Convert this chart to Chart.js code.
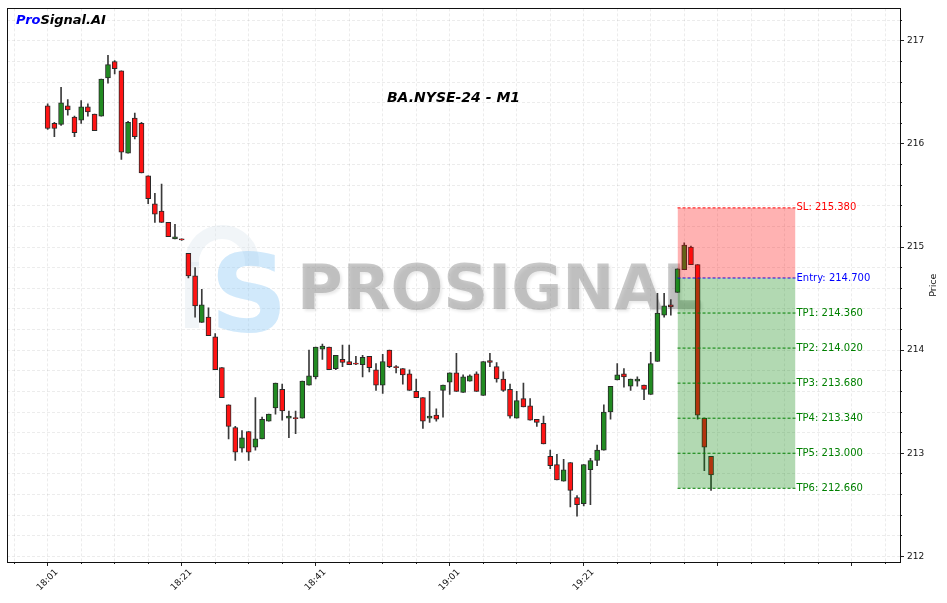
<!DOCTYPE html>
<html><head><meta charset="utf-8">
<script src="https://cdn.jsdelivr.net/npm/chart.js@4/dist/chart.umd.min.js"></script>
<style>html,body{margin:0;padding:0;background:#fff}</style>
</head><body>
<canvas id="c" width="947" height="603"></canvas>
<script>
// ---- data (minute index 0 = 18:01) ----
const openP = [216.37,216.20,216.19,216.37,216.26,216.23,216.36,216.29,216.27,216.64,
216.80,216.71,215.91,216.25,216.20,215.69,215.42,215.35,215.24,215.08,
215.075,214.94,214.72,214.27,214.32,214.13,213.83,213.47,213.25,213.05,
213.21,213.06,213.14,213.31,213.44,213.62,213.34,213.34,213.34,213.66,
213.74,214.01,214.03,213.82,213.91,213.89,213.87,213.86,213.94,213.81,
213.66,214.00,213.84,213.82,213.77,213.60,213.54,213.34,213.37,213.61,
213.69,213.78,213.59,213.70,213.77,213.56,213.90,213.84,213.72,213.62,
213.34,213.53,213.46,213.33,213.29,212.97,212.89,212.73,212.91,212.57,
212.51,212.84,212.93,213.03,213.40,213.71,213.77,213.65,213.70,213.66,
213.57,213.89,214.34,214.44,214.56,214.78,215.00,214.83,213.34,212.97];
const highP = [216.39,216.21,216.55,216.43,216.27,216.42,216.39,216.29,216.63,216.86,
216.81,216.71,216.22,216.30,216.21,215.69,215.52,215.61,215.24,215.22,
215.08,214.94,214.80,214.59,214.41,214.16,213.83,213.47,213.26,213.22,
213.21,213.54,213.35,213.38,213.68,213.67,213.41,213.41,213.70,214.00,
214.03,214.06,214.03,213.95,214.05,214.05,213.94,213.95,213.94,213.87,
213.96,214.00,213.85,213.82,213.81,213.72,213.54,213.60,213.43,213.66,
213.78,213.97,213.76,213.76,213.79,213.89,213.97,213.88,213.79,213.67,
213.60,213.68,213.53,213.33,213.36,213.03,212.99,212.94,212.91,212.59,
212.89,212.95,213.08,213.47,213.65,213.87,213.82,213.72,213.74,213.66,
213.98,214.55,214.55,214.49,214.79,215.04,215.01,214.83,213.34,212.97];
const lowP = [216.14,216.07,216.18,216.28,216.07,216.20,216.27,216.13,216.27,216.59,
216.68,215.85,215.91,216.05,215.72,215.42,215.24,215.24,215.10,215.08,
215.065,214.70,214.32,214.27,214.14,213.81,213.54,213.14,212.93,213.01,
212.93,213.03,213.14,213.31,213.38,213.32,213.15,213.19,213.34,213.66,
213.72,213.91,213.81,213.81,213.84,213.86,213.86,213.74,213.79,213.61,
213.58,213.83,213.78,213.67,213.61,213.54,213.24,213.30,213.31,213.35,
213.57,213.60,213.59,213.70,213.60,213.56,213.84,213.69,213.60,213.34,
213.34,213.45,213.32,213.26,213.09,212.85,212.74,212.73,212.48,212.39,
212.49,212.50,212.88,213.03,213.33,213.71,213.64,213.61,213.65,213.52,
213.57,213.89,214.32,214.34,214.56,214.78,214.83,213.33,212.83,212.64];
const closeP = [216.15,216.15,216.40,216.33,216.11,216.36,216.31,216.13,216.63,216.77,
216.73,215.92,216.21,216.07,215.72,215.47,215.32,215.24,215.10,215.10,
215.07,214.72,214.43,214.44,214.14,213.81,213.54,213.26,213.01,213.15,
213.01,213.14,213.33,213.38,213.68,213.41,213.36,213.335,213.70,213.75,
214.03,214.04,213.81,213.95,213.88,213.86,213.865,213.93,213.83,213.66,
213.89,213.84,213.83,213.76,213.61,213.54,213.31,213.36,213.33,213.66,
213.78,213.60,213.74,213.75,213.60,213.89,213.88,213.72,213.61,213.36,
213.51,213.45,213.32,213.30,213.09,212.88,212.74,212.84,212.64,212.50,
212.89,212.93,213.03,213.40,213.65,213.76,213.74,213.72,213.72,213.62,
213.87,214.36,214.43,214.42,214.79,215.02,214.83,213.37,213.06,212.79];

const xTickValues = [0,20,40,60,80,100,120];
const xTickLabels = ['18:01','18:21','18:41','19:01','19:21','',''];
const yTickValues = [212,213,214,215,216,217];

const zoneStart = 94, zoneEnd = 111.6;
const levelNames = ['SL','Entry','TP1','TP2','TP3','TP4','TP5','TP6'];
const levelValues = [215.38,214.70,214.36,214.02,213.68,213.34,213.00,212.66];

const chartTitle = 'BA.NYSE-24 - M1';
const xRange = [-6.07, 127.2];
const yRange = [211.945, 217.315];

// ---- build datasets ----
const idx = openP.map((_, i) => i);
const GREEN = '#228b22', RED = '#ff1414';
const isUp = i => closeP[i] >= openP[i];

const wickDs = {
  type: 'bar', label: 'wick', order: 20, grouped: false, xAxisID: 'x', yAxisID: 'y',
  data: idx.map(i => ({x: i, y: [lowP[i], highP[i]]})),
  backgroundColor: '#3a3a3a', borderWidth: 0, barThickness: 1, minBarLength: 1
};
const bodyDs = {
  type: 'bar', label: 'body', order: 10, grouped: false, xAxisID: 'x', yAxisID: 'y',
  data: idx.map(i => ({x: i, y: [openP[i], closeP[i]]})),
  backgroundColor: idx.map(i => isUp(i) ? GREEN : RED),
  borderColor: '#2a2a2a', borderWidth: 1, borderSkipped: false,
  barThickness: 5, minBarLength: 1
};
const levelColor = n => n === 'SL' ? '#ff0000' : (n === 'Entry' ? '#0000ff' : '#008000');
const lineDs = levelNames.map((n, k) => ({
  type: 'line', label: n, order: 1, xAxisID: 'x', yAxisID: 'y',
  data: [{x: zoneStart, y: levelValues[k]}, {x: zoneEnd, y: levelValues[k]}],
  borderColor: levelColor(n), borderWidth: 1, borderDash: [3, 2],
  pointRadius: 0,
  fill: n === 'SL' ? 3 : (n === 'Entry' ? 9 : false),
  backgroundColor: n === 'SL' ? 'rgba(255,0,0,0.3)' : 'rgba(0,128,0,0.3)'
}));

// ---- plugins ----
const decor = {
  id: 'decor',
  beforeDatasetsDraw(chart) {
    const ctx = chart.ctx; const a = chart.chartArea;
    ctx.save();
    ctx.beginPath(); ctx.rect(a.left, a.top, a.right - a.left, a.bottom - a.top); ctx.clip();
    // logo back arc
    ctx.strokeStyle = 'rgba(215,225,235,0.35)'; ctx.lineWidth = 14;
    ctx.beginPath(); ctx.arc(222, 262, 30, Math.PI * 0.95, Math.PI * 0.05); ctx.stroke();
    ctx.beginPath(); ctx.moveTo(192, 262); ctx.lineTo(192, 328); ctx.stroke();
    // blue S
    ctx.fillStyle = 'rgba(140,200,245,0.4)';
    ctx.font = 'bold 108px "DejaVu Sans"';
    ctx.textAlign = 'center'; ctx.textBaseline = 'alphabetic';
    ctx.fillText('S', 249, 331);
    // watermark text
    ctx.shadowColor = 'rgba(0,0,0,0.18)'; ctx.shadowOffsetX = 2; ctx.shadowOffsetY = 2; ctx.shadowBlur = 3;
    ctx.fillStyle = 'rgba(150,150,150,0.5)';
    ctx.font = 'bold 63px "DejaVu Sans"';
    ctx.textAlign = 'left';
    ctx.fillText('PROSIGNAL', 297, 309, 405);
    ctx.restore();
  },
  afterDraw(chart) {
    const ctx = chart.ctx; const a = chart.chartArea;
    const xs = chart.scales.x, ys = chart.scales.y;
    ctx.save();
    // frame
    ctx.strokeStyle = '#111'; ctx.lineWidth = 1;
    ctx.strokeRect(Math.round(a.left) + 0.5, Math.round(a.top) + 0.5, Math.round(a.right - a.left), Math.round(a.bottom - a.top));
    // level labels
    ctx.font = '10px "DejaVu Sans"'; ctx.textAlign = 'left'; ctx.textBaseline = 'middle';
    levelNames.forEach((n, k) => {
      ctx.fillStyle = levelColor(n);
      ctx.fillText(n + ': ' + levelValues[k].toFixed(3), xs.getPixelForValue(zoneEnd) + 1, ys.getPixelForValue(levelValues[k]));
    });
    // title
    ctx.fillStyle = '#000'; ctx.font = 'italic bold 14px "DejaVu Sans"'; ctx.textAlign = 'center';
    ctx.fillText(chartTitle, (a.left + a.right) / 2, a.top + 90);
    // brand
    ctx.textAlign = 'left'; ctx.font = 'italic bold 13px "DejaVu Sans"';
    ctx.fillStyle = '#0000ff'; ctx.fillText('Pro', a.left + 9, a.top + 12);
    const w = ctx.measureText('Pro').width;
    ctx.fillStyle = '#000'; ctx.fillText('Signal.AI', a.left + 9 + w, a.top + 12);
    // y title
    ctx.translate(934, (a.top + a.bottom) / 2); ctx.rotate(-Math.PI / 2);
    ctx.textAlign = 'center'; ctx.font = '9.5px "DejaVu Sans"'; ctx.fillStyle = '#111';
    ctx.fillText('Price', 0, 0);
    ctx.restore();
  }
};

const gridDash = [3, 2];
const gridColor = 'rgba(0,0,0,0.075)';

new Chart(document.getElementById('c'), {
  type: 'bar',
  data: { datasets: [wickDs, bodyDs, ...lineDs] },
  options: {
    responsive: false, animation: false, devicePixelRatio: 1,
    layout: { padding: { left: 7, top: 7, right: 0, bottom: 0 } },
    plugins: { legend: { display: false }, tooltip: { enabled: false } },
    scales: {
      x: {
        type: 'linear', position: 'bottom', weight: 1, min: xRange[0], max: xRange[1], offset: false,
        afterBuildTicks: s => { s.ticks = xTickValues.map(v => ({value: v})); },
        afterFit: s => { s.height = 41; },
        ticks: {
          autoSkip: false, minRotation: 45, maxRotation: 45, labelOffset: 9, padding: 1,
          font: { family: 'DejaVu Sans', size: 9 }, color: '#111',
          callback: (v) => { const k = xTickValues.indexOf(v); return k >= 0 ? xTickLabels[k] : ''; }
        },
        grid: { drawOnChartArea: false, offset: false, tickColor: '#222', tickLength: 4 },
        border: { display: false }
      },
      y: {
        type: 'linear', position: 'right', weight: 1, min: yRange[0], max: yRange[1], offset: false,
        afterBuildTicks: s => { s.ticks = yTickValues.map(v => ({value: v})); },
        afterFit: s => { s.width = 47; },
        ticks: { font: { family: 'DejaVu Sans', size: 9 }, color: '#111', padding: 3,
          callback: v => String(v) },
        grid: { drawOnChartArea: false, offset: false, tickColor: '#222', tickLength: 4 },
        border: { display: false }
      },
      xMinor: {
        type: 'linear', position: 'bottom', weight: 0, min: xRange[0], max: xRange[1], offset: false,
        afterBuildTicks: s => { const t = []; for (let v = -5; v <= 125; v += 5) t.push({value: v}); s.ticks = t; },
        afterFit: s => { s.height = 0; },
        ticks: { display: false },
        grid: { color: gridColor, offset: false, tickColor: '#222', tickLength: 2, drawTicks: true },
        border: { display: false, dash: gridDash }
      },
      yMinor: {
        type: 'linear', position: 'right', weight: 0, min: yRange[0], max: yRange[1], offset: false,
        afterBuildTicks: s => { const t = []; for (let k = 1060; k <= 1086; k++) t.push({value: k / 5}); s.ticks = t; },
        afterFit: s => { s.width = 0; },
        ticks: { display: false },
        grid: { color: gridColor, offset: false, tickColor: '#222', tickLength: 2 },
        border: { display: false, dash: gridDash }
      }
    }
  },
  plugins: [decor]
});
</script>
</body></html>
